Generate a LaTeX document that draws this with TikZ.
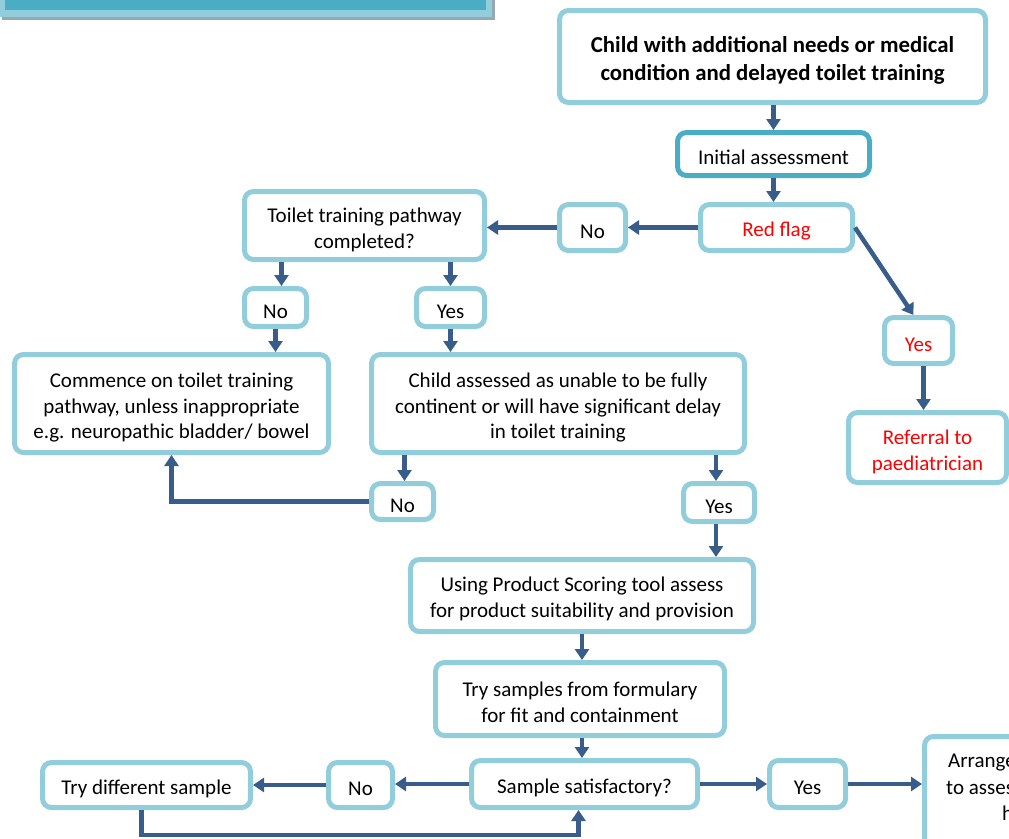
\documentclass[tikz,border=0pt]{standalone}
\usepackage{fontspec}
\setmainfont{Carlito}
\usetikzlibrary{arrows.meta,calc}
\definecolor{lblue}{RGB}{146,205,220}
\definecolor{tblue}{RGB}{75,172,198}
\definecolor{arrblue}{RGB}{56,93,138}
\definecolor{shad}{RGB}{150,168,180}
\newcommand{\tstrut}{\rule{0pt}{23pt}}
\newcommand{\sstrut}{\rule{0pt}{21.5pt}}
\begin{document}
\begin{tikzpicture}[x=1pt,y=-1pt,
  box/.style={draw=lblue,line width=5pt,rounded corners=9pt,fill=white,align=center,inner sep=0pt,font=\fontsize{21}{25.5}\selectfont},
  redtxt/.style={text=red},
  arr/.style={draw=arrblue,line width=4.5pt,-{Triangle[width=14pt,length=11pt]}}]
\clip (0,0) rectangle (1009,838);
\fill[white] (0,0) rectangle (1009,838);
% banner
\fill[shad] (2,0) rectangle (495,20);
\fill[lblue] (0,0) rectangle (492,17);
\fill[tblue] (5,0) rectangle (486,10);
% boxes
\node[box,minimum width=426,minimum height=92,font=\fontsize{22.8}{28}\selectfont\bfseries] (top) at (772.5,56.5) {\rule{0pt}{24.5pt}Child with additional needs or medical\\condition and delayed toilet training};
\node[box,draw=tblue,minimum width=192,minimum height=43] (init) at (773.5,154) {\sstrut Initial assessment};
\node[box,redtxt,minimum width=152,minimum height=46] (red) at (776.5,227.5) {\sstrut Red flag};
\node[box,minimum width=66,minimum height=46] (no1) at (592.5,227.5) {\sstrut No};
\node[box,minimum width=240,minimum height=68] (toilet) at (364.5,225.5) {\tstrut Toilet training pathway\\completed?};
\node[box,minimum width=62,minimum height=38] (no2) at (275.5,307.5) {\sstrut No};
\node[box,minimum width=68,minimum height=38] (yes1) at (450.5,307.5) {\sstrut Yes};
\node[box,minimum width=314,minimum height=98] (comm) at (171.5,403.5) {\tstrut Commence on toilet training\\pathway, unless inappropriate\\e.g. neuropathic bladder/ bowel};
\node[box,minimum width=373,minimum height=98] (child) at (558,403.5) {\tstrut Child assessed as unable to be fully\\continent or will have significant delay\\in toilet training};
\node[box,minimum width=62,minimum height=36] (no3) at (402.5,501.5) {\sstrut No};
\node[box,minimum width=71,minimum height=38] (yes2) at (719,502.5) {\sstrut Yes};
\node[box,redtxt,minimum width=68,minimum height=46] (yesred) at (918.5,340.5) {\sstrut Yes};
\node[box,redtxt,minimum width=158,minimum height=70] (ref) at (927.5,447.5) {\tstrut Referral to\\paediatrician};
\node[box,minimum width=343,minimum height=72] (prod) at (582,595.5) {\sstrut Using Product Scoring tool assess\\for product suitability and provision};
\node[box,minimum width=289,minimum height=73] (trys) at (580,699) {\sstrut Try samples from formulary\\for fit and containment};
\node[box,minimum width=226,minimum height=47] (samp) at (584.5,784) {\sstrut Sample satisfactory?};
\node[box,minimum width=64,minimum height=45] (no4) at (360.5,785) {\sstrut No};
\node[box,minimum width=208,minimum height=45] (diff) at (146.5,785) {\sstrut Try different sample};
\node[box,minimum width=76,minimum height=47] (yes3) at (807.5,784) {\sstrut Yes};
\node[box,minimum width=200,minimum height=140] (arr) at (1024.5,806.5) {};
\node[anchor=west,inner sep=0pt,font=\fontsize{21}{25.5}\selectfont] (arrA) at (948,763) {Arrange};
\node[anchor=west,inner sep=0pt,font=\fontsize{21}{25.5}\selectfont] (arrB) at (946,788) {to assess};
\node[anchor=west,inner sep=0pt,font=\fontsize{21}{25.5}\selectfont] (arrC) at (1002,813) {h};
% connectors
\draw[arr] (top.south -| init.north) -- (init.north);
\draw[arr] (init.south) -- (init.south |- red.north);
\draw[arr] (red.west) -- (no1.east);
\draw[arr] (no1.west) -- (no1.west -| toilet.east);
\draw[arr] (red.east) -- ([xshift=-5pt]yesred.north);
\draw[arr] ([xshift=5pt]yesred.south) -- ([xshift=5pt]yesred.south |- ref.north);
\draw[arr] ([xshift=6pt]no2.north |- toilet.south) -- ([xshift=6pt]no2.north);
\draw[arr] (yes1.north |- toilet.south) -- (yes1.north);
\draw[arr] (no2.south) -- (no2.south |- comm.north);
\draw[arr] (yes1.south) -- (yes1.south |- child.north);
\draw[arr] ([xshift=2pt]no3.north |- child.south) -- ([xshift=2pt]no3.north);
\draw[arr] (no3.west) -| (comm.south);
\draw[arr] ([xshift=-3pt]yes2.north |- child.south) -- ([xshift=-3pt]yes2.north);
\draw[arr] ([xshift=-3pt]yes2.south) -- ([xshift=-3pt]yes2.south |- prod.north);
\draw[arr] (prod.south) -- (prod.south |- trys.north);
\draw[arr] ([xshift=2pt]trys.south) -- ([xshift=2pt]trys.south |- samp.north);
\draw[arr] (samp.west) -- (samp.west -| no4.east);
\draw[arr] (no4.west) -- (no4.west -| diff.east);
\draw[arr] ([xshift=-5pt]diff.south) -- ++(0,25) -| ([xshift=-6pt]samp.south);
\draw[arr] (samp.east) -- (samp.east -| yes3.west);
\draw[arr] (yes3.east) -- (yes3.east -| arr.west);
\end{tikzpicture}
\end{document}
